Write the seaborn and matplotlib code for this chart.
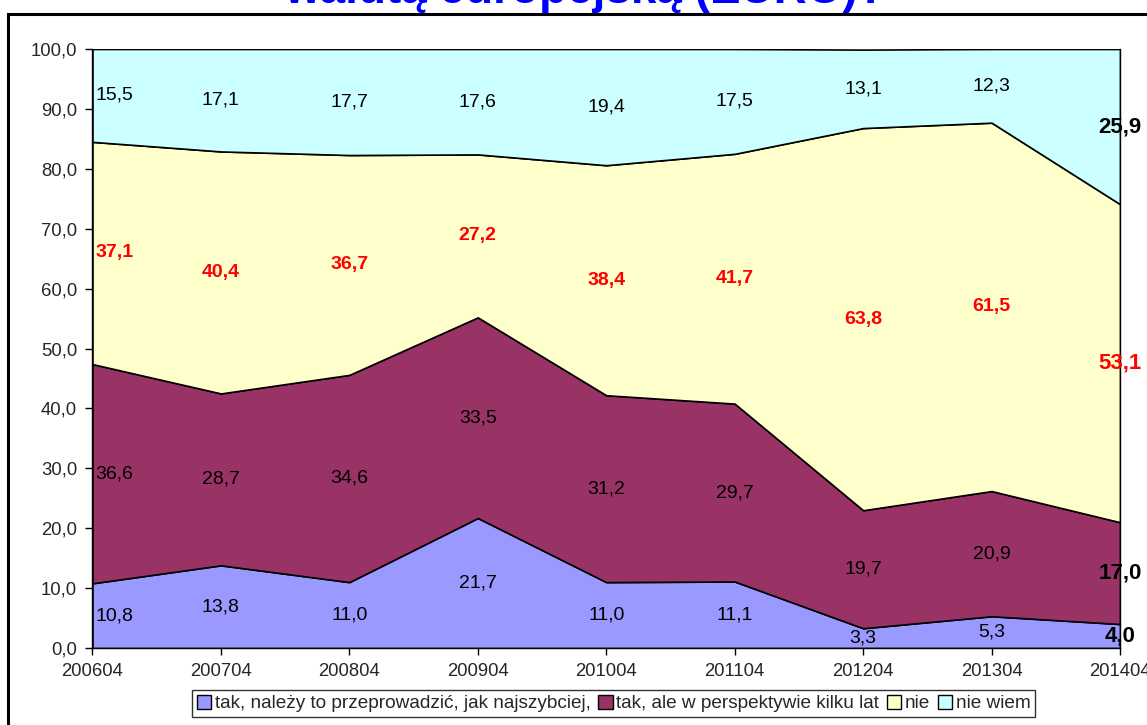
import matplotlib
matplotlib.use("Agg")
import matplotlib.pyplot as plt
import matplotlib.patches as mpatches
import numpy as np
import seaborn as sns

# survey waves
periods = ["200604", "200704", "200804", "200904", "201004", "201104", "201204", "201304", "201404"]

# answer shares (%)
tak_szybko = [10.8, 13.8, 11.0, 21.7, 11.0, 11.1, 3.3, 5.3, 4.0]
tak_kilka_lat = [36.6, 28.7, 34.6, 33.5, 31.2, 29.7, 19.7, 20.9, 17.0]
nie = [37.1, 40.4, 36.7, 27.2, 38.4, 41.7, 63.8, 61.5, 53.1]
nie_wiem = [15.5, 17.1, 17.7, 17.6, 19.4, 17.5, 13.1, 12.3, 25.9]

series_names = ["tak, należy to przeprowadzić, jak najszybciej,",
                "tak, ale w perspektywie kilku lat", "nie", "nie wiem"]
colors = ["#9999FF", "#993366", "#FFFFCC", "#CCFFFF"]

sns.set_theme(style="white")
plt.rcParams["font.family"] = ["Liberation Sans", "DejaVu Sans"]

fig = plt.figure(figsize=(11.47, 7.25), dpi=100)
ax = fig.add_axes([0.0806, 0.1062, 0.8959, 0.8262])

x = np.arange(len(periods))
series = [tak_szybko, tak_kilka_lat, nie, nie_wiem]
ax.stackplot(x, *series, colors=colors, edgecolor="black", linewidth=1.2)

# value labels in the middle of each band
cum = np.zeros(len(periods))
for k, vals in enumerate(series):
    vals = np.array(vals)
    mids = cum + vals / 2
    for i, v in enumerate(vals):
        txt = f"{v:.1f}".replace(".", ",")
        red = (k == 2)
        last = (i == len(periods) - 1)
        color = "#FF0000" if red else "black"
        weight = "bold" if (red or last) else "normal"
        size = 16 if last else (14 if red else 14)
        if i == 0:
            ax.text(i + 0.02, mids[i], txt, ha="left", va="center",
                    color=color, fontweight=weight, fontsize=size, clip_on=False)
        else:
            ax.text(i, mids[i], txt, ha="center", va="center",
                    color=color, fontweight=weight, fontsize=size, clip_on=False)
    cum = cum + vals

ax.set_xlim(0, len(periods) - 1)
ax.set_ylim(0, 100)
ax.set_xticks(x)
ax.set_xticklabels(periods, fontsize=13.3)
yt = np.arange(0, 101, 10)
ax.set_yticks(yt)
ax.set_yticklabels([f"{v:.1f}".replace(".", ",") for v in yt], fontsize=13.3)
ax.tick_params(axis="both", direction="out", length=5, width=1, color="black",
               left=True, bottom=True, pad=6)
for s in ax.spines.values():
    s.set_color("black")
    s.set_linewidth(1)
ax.spines["top"].set_visible(False)

handles = [mpatches.Patch(facecolor=c, edgecolor="black", linewidth=1) for c in colors]
leg = fig.legend(handles, series_names, loc="center", bbox_to_anchor=(0.535, 0.0297),
                 ncol=4, fontsize=13.7, frameon=True, fancybox=False, shadow=False,
                 handlelength=0.75, handleheight=0.75, handletextpad=0.2,
                 columnspacing=0.4, borderpad=0.25, borderaxespad=0)
leg.get_frame().set_edgecolor("black")
leg.get_frame().set_linewidth(1)

# outer chart frame
frame = mpatches.Rectangle((8 / 1147, -0.05), 1.2, 1 - 14 / 725 + 0.05,
                           transform=fig.transFigure, fill=False,
                           edgecolor="black", linewidth=2.2)
fig.patches.append(frame)

fig.text(0.51, 0.996, "walutą europejską (EURO)?", ha="center", va="baseline",
         color="#0000FF", fontweight="bold", fontsize=33)

fig.savefig("out.png", dpi=100)
